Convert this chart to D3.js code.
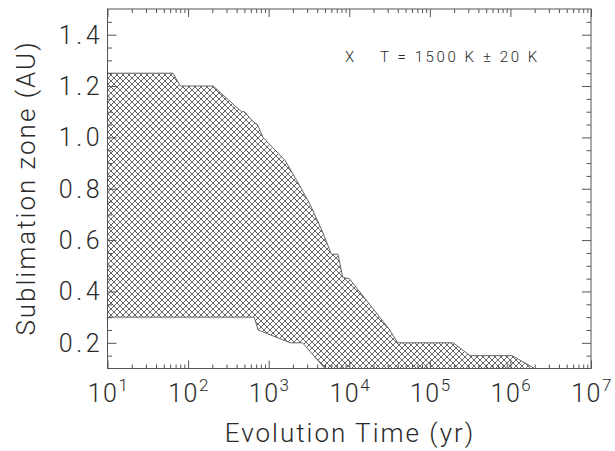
<!DOCTYPE html>
<html>
<head>
<meta charset="utf-8">
<script src="https://cdn.jsdelivr.net/npm/d3@7"></script>
<style>
  html, body { margin: 0; padding: 0; background: #fff; }
  svg { display: block; }
  text { font-family: Roboto, "Liberation Sans", Arial, sans-serif; font-weight: 300; fill: #2a2a2a; }
</style>
</head>
<body>
<svg id="chart" width="615" height="451"></svg>
<script>
// ---- data ----
const upperTime  = [10, 65, 80, 205, 460, 500, 645, 725, 850, 1600, 2250, 3250, 4550, 5750, 6000, 7250, 8300, 10000, 31000, 40000, 195000, 316000, 1050000, 2000000];
const upperValue = [1.25, 1.25, 1.20, 1.20, 1.10, 1.10, 1.06, 1.05, 1.00, 0.91, 0.83, 0.74, 0.64, 0.56, 0.545, 0.545, 0.455, 0.45, 0.255, 0.20, 0.20, 0.15, 0.15, 0.10];
const lowerTime  = [10, 660, 740, 1860, 2630, 5000, 2000000];
const lowerValue = [0.30, 0.30, 0.25, 0.20, 0.20, 0.10, 0.10];
const xDecades   = [1e1, 1e2, 1e3, 1e4, 1e5, 1e6, 1e7];
const xExponents = ["1", "2", "3", "4", "5", "6", "7"];
const yMajor     = [0.2, 0.4, 0.6, 0.8, 1.0, 1.2, 1.4];
const yLabels    = ["0.2", "0.4", "0.6", "0.8", "1.0", "1.2", "1.4"];
const annoMarker = "X";
const annoText   = "T = 1500 K \u00b1 20 K";
const xTitle = "Evolution Time (yr)";
const yTitle = "Sublimation zone (AU)";

// ---- layout ----
const L = 107.5, R = 591, T = 9, B = 368.5;
const svg = d3.select("#chart");
svg.append("rect").attr("width", 615).attr("height", 451).attr("fill", "#fff");

const x = d3.scaleLog().domain([10, 1e7]).range([L, R]);
const y = d3.scaleLinear().domain([0.1, 1.5]).range([B, T]);

// hatch pattern
const H = 6;
const defs = svg.append("defs");
const pat = defs.append("pattern").attr("id", "hatch")
  .attr("patternUnits", "userSpaceOnUse").attr("width", H).attr("height", H);
pat.append("path")
  .attr("d", `M0,0L${H},${H}M${H},0L0,${H}M-1,${H-1}L1,${H+1}M${H-1},-1L${H+1},1M-1,1L1,-1M${H-1},${H+1}L${H+1},${H-1}`)
  .attr("stroke", "#686868").attr("stroke-width", 1).attr("fill", "none");
defs.append("clipPath").attr("id", "plotclip").append("rect")
  .attr("x", L).attr("y", T).attr("width", R - L).attr("height", B - T);

// region polygon
const upperPts = upperTime.map((t, i) => [t, upperValue[i]]);
const lowerPts = lowerTime.map((t, i) => [t, lowerValue[i]]).reverse();
const poly = upperPts.concat(lowerPts);
const line = d3.line().x(d => x(d[0])).y(d => y(d[1]));
svg.append("path")
  .attr("clip-path", "url(#plotclip)")
  .attr("d", line(poly) + "Z")
  .attr("fill", "url(#hatch)")
  .attr("stroke", "#666").attr("stroke-width", 1);

// ---- axes (ticks inward on all sides) ----
const axisColor = "#555";
const xMinor = x.ticks().filter(v => !xDecades.includes(v));
function styleAxis(g) {
  g.select(".domain").remove();
  g.selectAll(".tick line").attr("stroke", axisColor).attr("stroke-width", 1);
  g.selectAll("text").remove();
}
svg.append("g").attr("transform", `translate(0,${B})`)
  .call(d3.axisBottom(x).tickValues(xDecades).tickSize(-8)).call(styleAxis);
svg.append("g").attr("transform", `translate(0,${B})`)
  .call(d3.axisBottom(x).tickValues(xMinor).tickSize(-4)).call(styleAxis);
svg.append("g").attr("transform", `translate(0,${T})`)
  .call(d3.axisTop(x).tickValues(xDecades).tickSize(-8)).call(styleAxis);
svg.append("g").attr("transform", `translate(0,${T})`)
  .call(d3.axisTop(x).tickValues(xMinor).tickSize(-4)).call(styleAxis);

const yMinor = d3.range(0.15, 1.5, 0.05).map(v => +v.toFixed(2)).filter(v => !yMajor.some(m => Math.abs(m - v) < 1e-6));
svg.append("g").attr("transform", `translate(${L},0)`)
  .call(d3.axisLeft(y).tickValues(yMajor).tickSize(-9)).call(styleAxis);
svg.append("g").attr("transform", `translate(${L},0)`)
  .call(d3.axisLeft(y).tickValues(yMinor).tickSize(-4.5)).call(styleAxis);
svg.append("g").attr("transform", `translate(${R},0)`)
  .call(d3.axisRight(y).tickValues(yMajor).tickSize(-9)).call(styleAxis);
svg.append("g").attr("transform", `translate(${R},0)`)
  .call(d3.axisRight(y).tickValues(yMinor).tickSize(-4.5)).call(styleAxis);

// frame
svg.append("rect").attr("x", L).attr("y", T).attr("width", R - L).attr("height", B - T)
  .attr("fill", "none").attr("stroke", axisColor).attr("stroke-width", 1);

// x tick labels
const xl = svg.append("g");
xDecades.forEach((d, i) => {
  const t = xl.append("text").attr("x", x(d) + 1).attr("y", 402)
    .attr("text-anchor", "middle").attr("font-size", 25).attr("letter-spacing", 1.5);
  t.append("tspan").text("10");
  t.append("tspan").attr("dy", -11).attr("font-size", 17).text(xExponents[i]);
});

// y tick labels
yMajor.forEach((v, i) => {
  svg.append("text").attr("x", 103).attr("y", y(v)).attr("dy", "0.36em")
    .attr("text-anchor", "end").attr("font-size", 25).attr("letter-spacing", 3.5).text(yLabels[i]);
});

// titles
svg.append("text").attr("x", 350).attr("y", 442).attr("text-anchor", "middle")
  .attr("font-size", 26).attr("letter-spacing", 2).text(xTitle);
svg.append("text").attr("transform", `translate(35,188) rotate(-90)`)
  .attr("text-anchor", "middle").attr("font-size", 26).attr("letter-spacing", 2).text(yTitle);

// annotation
svg.append("text").attr("x", 345).attr("y", 62).attr("font-size", 15).text(annoMarker);
svg.append("text").attr("x", 380).attr("y", 62).attr("font-size", 15)
  .attr("letter-spacing", 2.6).style("white-space", "pre").text(annoText);
</script>
</body>
</html>
